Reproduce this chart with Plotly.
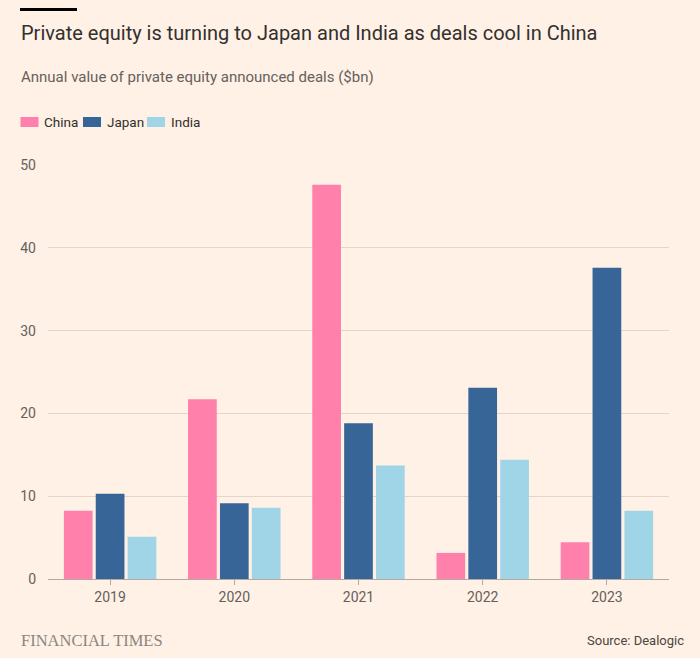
import plotly.graph_objects as go

years = ["2019", "2020", "2021", "2022", "2023"]
china = [8.25, 21.7, 47.6, 3.15, 4.45]
japan = [10.3, 9.15, 18.8, 23.1, 37.6]
india = [5.1, 8.6, 13.7, 14.4, 8.25]
y_ticks = [0, 10, 20, 30, 40, 50]

C_CHINA = "#FF80AA"
C_JAPAN = "#386597"
C_INDIA = "#9FD5E6"
BG = "#FFF1E5"
FONT = "Roboto"

W, H = 700, 658
ML, MR, MT, MB = 48, 31, 165, 79
PW, PH = W - ML - MR, H - MT - MB


def px(x):
    return (x - ML) / PW


def py(y):
    return (H - MB - y) / PH


fig = go.Figure()
for name, vals, col in [("China", china, C_CHINA), ("Japan", japan, C_JAPAN), ("India", india, C_INDIA)]:
    fig.add_trace(go.Bar(x=years, y=vals, name=name, marker=dict(color=col, line=dict(width=0)),
                         hoverinfo="x+y+name"))

fig.update_layout(
    width=W, height=H,
    margin=dict(l=ML, r=MR, t=MT, b=MB, pad=0),
    paper_bgcolor=BG, plot_bgcolor=BG,
    barmode="group", bargap=0.23, bargroupgap=0.1,
    showlegend=False,
    font=dict(family=FONT, color="#66605C", size=14),
    xaxis=dict(type="category", showline=True, linecolor="#B3A9A1", linewidth=1,
               ticks="outside", ticklen=5, tickcolor="#B3A9A1", tickwidth=1,
               showgrid=False, zeroline=False,
               tickfont=dict(family=FONT, size=14, color="#66605C"), range=[-0.5, 4.5]),
    yaxis=dict(range=[0, 50], tickvals=y_ticks, showgrid=True, gridcolor="#E3D5CB", gridwidth=1,
               zeroline=False, ticks="", showline=False, ticklabelstandoff=11,
               tickfont=dict(family=FONT, size=14, color="#66605C")),
)

shapes = [
    dict(type="rect", xref="paper", yref="paper", x0=px(20), x1=px(77), y0=py(11), y1=py(8),
         fillcolor="#000000", line=dict(width=0)),
]
legend_items = [("China", C_CHINA, 20.5, 42), ("Japan", C_JAPAN, 83, 105), ("India", C_INDIA, 147, 169)]
annotations = [
    dict(text="Private equity is turning to Japan and India as deals cool in China", xref="paper", yref="paper",
         x=px(19), y=py(33), xanchor="left", yanchor="middle", showarrow=False,
         font=dict(family=FONT, size=20, color="#33302E")),
    dict(text="Annual value of private equity announced deals ($bn)", xref="paper", yref="paper",
         x=px(19), y=py(77), xanchor="left", yanchor="middle", showarrow=False,
         font=dict(family=FONT, size=15, color="#66605C")),
    dict(text="FINANCIAL TIMES", xref="paper", yref="paper",
         x=px(19), y=py(640), xanchor="left", yanchor="middle", showarrow=False,
         font=dict(family="Liberation Serif", size=16.5, color="#8C8580")),
    dict(text="Source: Dealogic", xref="paper", yref="paper",
         x=px(686), y=py(640), xanchor="right", yanchor="middle", showarrow=False,
         font=dict(family=FONT, size=13, color="#4A4542")),
]
for name, col, sx, tx in legend_items:
    shapes.append(dict(type="rect", xref="paper", yref="paper", x0=px(sx), x1=px(sx + 18),
                       y0=py(127), y1=py(117), fillcolor=col, line=dict(width=0)))
    annotations.append(dict(text=name, xref="paper", yref="paper", x=px(tx), y=py(122),
                            xanchor="left", yanchor="middle", showarrow=False,
                            font=dict(family=FONT, size=13.5, color="#33302E")))

fig.update_layout(shapes=shapes, annotations=annotations)
fig.write_html("out.html", config={"displayModeBar": False},
               post_script="document.body.style.margin='0';document.body.style.background='" + BG + "';")
